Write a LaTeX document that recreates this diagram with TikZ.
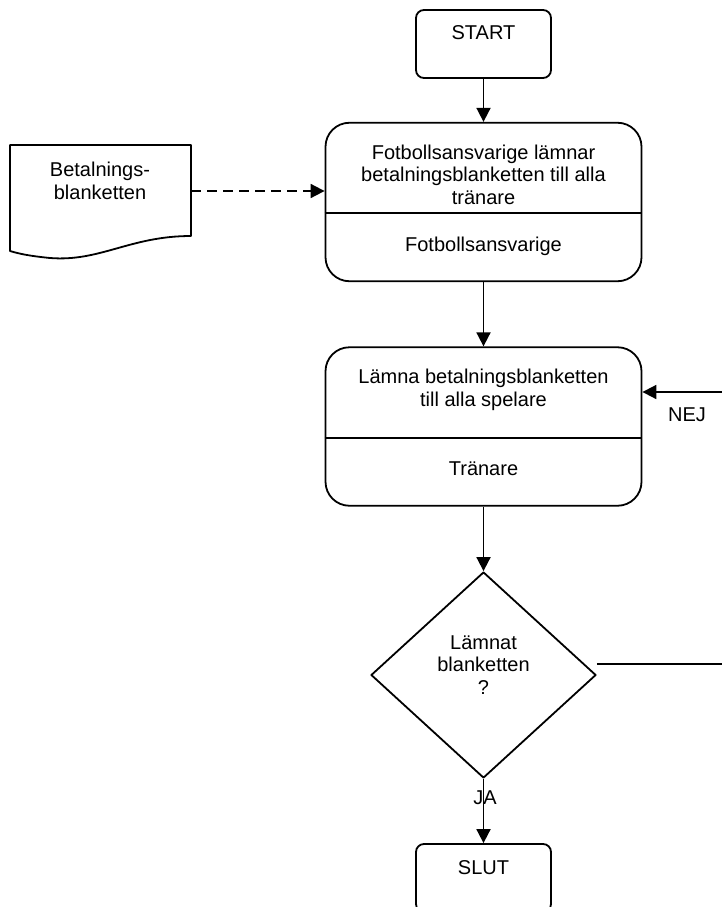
\documentclass[tikz,border=0pt]{standalone}
\usepackage{fontspec}
\setmainfont{Liberation Sans}
\usetikzlibrary{arrows.meta,shapes.geometric}
\tikzset{
  termbox/.style={draw, rounded corners=8pt, minimum width=135pt, minimum height=68pt, inner sep=0pt},
  taskbox/.style={draw, rounded corners=24pt, minimum width=316pt, minimum height=158.5pt, inner sep=0pt},
  decbox/.style={draw, diamond, minimum width=225pt, minimum height=206pt, inner sep=0pt},
  lbl/.style={align=center, inner sep=0pt},
}
\begin{document}
\begin{tikzpicture}[x=1pt, y=-1pt, >={Triangle[length=14pt,width=14pt]}, line width=1.8pt, line join=round, font={\fontsize{20}{22.5}\selectfont}]
\useasboundingbox (0,0) rectangle (722,907);
\node[termbox] (start) at (483.5,44) {};
\node[taskbox] (box1) at (483.5,202) {};
\node[taskbox] (box2) at (483.5,426.5) {};
\node[decbox] (dec) at (483.5,675) {};
\node[termbox] (slut) at (483.5,878) {};
\draw (box1.west |- 0,213) -- (box1.east |- 0,213);
\draw (box2.west |- 0,438) -- (box2.east |- 0,438);
\draw (10,145)--(191,145)--(191,236) .. controls (130,236) and (100,262) .. (50,258) .. controls (30,256) and (20,254) .. (10,251)--cycle;
\coordinate (docout) at (191,191);
\node[lbl] (t0) at (483.5,33) {START};
\node[lbl] (t1) at (483.5,174.5) {Fotbollsansvarige lämnar\\betalningsblanketten till alla\\tränare};
\node[lbl] (r1) at (483.5,246) {Fotbollsansvarige};
\node[lbl] (t2) at (483.5,390) {Lämna betalningsblanketten\\till alla spelare};
\node[lbl] (r2) at (483.5,469) {Tränare};
\node[lbl] (t3) at (483.5,665) {Lämnat\\blanketten\\?};
\node[lbl] (t4) at (483.5,868) {SLUT};
\node[lbl] (doc) at (100,181) {Betalnings-\\blanketten};
\node[lbl] (nej) at (687,415) {NEJ};
\draw[->] (start) -- (box1);
\draw[->] (box1) -- (box2);
\draw[->] (box2) -- (dec);
\draw[->] (dec) -- (slut) node[lbl, pos=0.3, xshift=1.5pt] (ja) {JA};
\draw[->, dash pattern=on 10pt off 6pt] (docout) -- (docout -| box1.west);
\draw[->] ([yshift=11pt]dec.east) -- ++(164,0) |- ([yshift=34.5pt]box2.east);
\end{tikzpicture}
\end{document}
